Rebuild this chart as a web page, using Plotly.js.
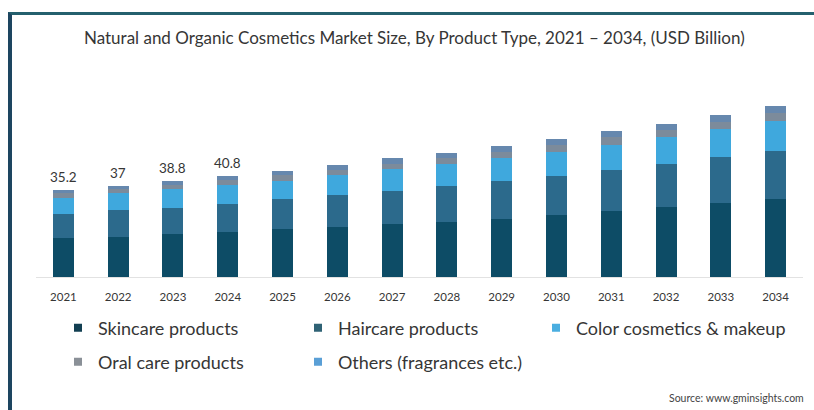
<!DOCTYPE html>
<html>
<head>
<meta charset="utf-8">
<script src="https://cdn.plot.ly/plotly-3.0.1.min.js"></script>
<style>
  html, body { margin: 0; padding: 0; background: #ffffff; }
  #wrap { position: relative; width: 814px; height: 410px; }
  #chart { width: 814px; height: 410px; }
  #frame { position: absolute; left: 8px; top: 12px; right: 0; bottom: 0;
           border-top: 3px solid #24606e; border-left: 4px solid #1d4560;
           pointer-events: none; }
</style>
</head>
<body>
<div id="wrap">
  <div id="chart"></div>
  <div id="frame"></div>
</div>
<script>
// ---- data ----
const years = ["2021","2022","2023","2024","2025","2026","2027","2028","2029","2030","2031","2032","2033","2034"];
const skincare = [15.6, 16.2, 17.5, 18.2, 19.4, 20.1, 21.5, 22.1, 23.6, 25.2, 26.6, 28.2, 30.0, 31.7];
const haircare = [9.7, 10.8, 10.4, 11.4, 12.1, 13.0, 13.5, 14.6, 15.1, 15.8, 16.8, 17.7, 18.5, 19.1];
const colorCosmetics = [6.8, 7.0, 7.7, 7.6, 7.5, 8.1, 8.5, 9.2, 9.5, 9.6, 10.2, 10.6, 11.2, 12.4];
const oralCare = [1.7, 1.6, 1.7, 2.0, 2.1, 2.2, 2.4, 2.3, 2.5, 2.8, 2.9, 2.9, 3.1, 3.1];
const others = [1.4, 1.4, 1.5, 1.6, 1.8, 1.8, 2.1, 2.0, 2.2, 2.5, 2.5, 2.5, 2.7, 2.7];
const labelYears = ["2021","2022","2023","2024"];
const labelTexts = ["35.2","37","38.8","40.8"];
const seriesNames = ["Skincare products","Haircare products","Color cosmetics & makeup","Oral care products","Others (fragrances etc.)"];

// ---- styles ----
const FONT = "Lato, 'Open Sans', sans-serif";
const TXT = "#363636";
const barColors = ["#0d4c66", "#2c6a8c", "#3fa8dd", "#7c8b9b", "#6688ae"];
const legendColors = ["#123f52", "#2f6275", "#4aaee0", "#8a9097", "#5a9fd6"];
const legendSlots = ["legend", "legend", "legend3", "legend2", "legend2"];
const seriesData = [skincare, haircare, colorCosmetics, oralCare, others];

const traces = seriesData.map((vals, i) => ({
  type: "bar",
  x: years,
  y: vals,
  name: seriesNames[i],
  marker: { color: barColors[i], line: { width: 0 } },
  showlegend: false,
  hoverinfo: "x+y+name"
}));

// legend entries (small square swatches)
seriesNames.forEach((nm, i) => {
  traces.push({
    type: "scatter",
    mode: "markers",
    x: [years[0]],
    y: [null],
    name: nm,
    marker: { symbol: "square", size: 8, color: legendColors[i] },
    showlegend: true,
    legend: legendSlots[i],
    hoverinfo: "skip"
  });
});

const totals = years.map((_, k) => seriesData.reduce((s, arr) => s + arr[k], 0));

const annotations = labelYears.map((yr, j) => {
  const idx = years.indexOf(yr);
  return {
    x: idx,
    y: totals[idx],
    xref: "x", yref: "y",
    text: labelTexts[j],
    showarrow: false,
    yanchor: "bottom",
    yshift: 3,
    font: { family: FONT, size: 13.5, color: TXT }
  };
});

annotations.push({
  xref: "paper", yref: "paper",
  x: 1.004, y: -0.70,
  xanchor: "right", yanchor: "middle",
  text: "Source: www.gminsights.com",
  showarrow: false,
  font: { family: FONT, size: 10.5, color: "#444" }
});

const legendCommon = {
  orientation: "h",
  xref: "container", yref: "container",
  xanchor: "left", yanchor: "middle",
  entrywidth: 195, entrywidthmode: "pixels",
  bgcolor: "rgba(0,0,0,0)",
  font: { family: FONT, size: 18, color: TXT },
  traceorder: "normal"
};

const layout = {
  width: 814, height: 410,
  paper_bgcolor: "#ffffff", plot_bgcolor: "#ffffff",
  margin: { l: 36, r: 11, t: 104.4, b: 132.7 },
  barmode: "stack",
  bargap: 0.617,
  title: {
    text: "Natural and Organic Cosmetics Market Size, By Product Type, 2021 – 2034, (USD Billion)",
    font: { family: FONT, size: 17, color: TXT },
    x: 0.509, xanchor: "center",
    y: 1 - 38 / 410, yanchor: "middle", yref: "container"
  },
  xaxis: {
    type: "category",
    range: [-0.5, 13.5],
    autorange: false,
    showgrid: false,
    showline: true, linecolor: "#e2e2e2", linewidth: 1,
    ticks: "",
    ticklabelstandoff: 9,
    tickfont: { family: FONT, size: 11.5, color: TXT },
    fixedrange: true
  },
  yaxis: {
    range: [0, 70],
    autorange: false,
    visible: false,
    showgrid: false, zeroline: false,
    fixedrange: true
  },
  legend: Object.assign({}, legendCommon, { x: 58 / 814, y: 1 - 328 / 410 }),
  legend3: Object.assign({}, legendCommon, { x: 536 / 814, y: 1 - 328 / 410, entrywidth: 230 }),
  legend2: Object.assign({}, legendCommon, { x: 58 / 814, y: 1 - 362 / 410 }),
  annotations: annotations,
  font: { family: FONT, color: TXT }
};

Plotly.newPlot("chart", traces, layout, { displayModeBar: false, staticPlot: true });
</script>
</body>
</html>
